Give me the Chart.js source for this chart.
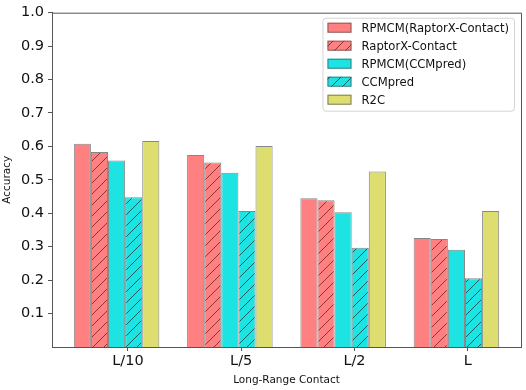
<!DOCTYPE html>
<html>
<head>
<meta charset="utf-8">
<script src="https://cdn.jsdelivr.net/npm/chart.js@4.4.0/dist/chart.umd.min.js"></script>
<style>
  html, body { margin: 0; padding: 0; background: #fff; }
  #wrap { width: 526px; height: 390px; }
</style>
</head>
<body>
<div id="wrap"><canvas id="chart"></canvas></div>
<script>
// data
const categories = ['L/10', 'L/5', 'L/2', 'L'];
const seriesNames = ['RPMCM(RaptorX-Contact)', 'RaptorX-Contact', 'RPMCM(CCMpred)', 'CCMpred', 'R2C'];
const rpmcmRaptor = [0.608, 0.574, 0.445, 0.326];
const raptorX     = [0.583, 0.552, 0.439, 0.323];
const rpmcmCcm    = [0.558, 0.521, 0.403, 0.291];
const ccmpred     = [0.448, 0.407, 0.297, 0.206];
const r2c         = [0.616, 0.601, 0.525, 0.407];
const yTicks = [0.1, 0.2, 0.3, 0.4, 0.5, 0.6, 0.7, 0.8, 0.9, 1.0];

const FONT = '"DejaVu Sans", sans-serif';
const RED = '#ff8080';
const CYAN = '#1de3e3';
const YELLOW = '#dede70';
const EDGE = 'rgba(70,70,70,0.65)';

function hatch(bg, line) {
  const s = 11;
  const c = document.createElement('canvas');
  c.width = s; c.height = s;
  const g = c.getContext('2d');
  g.fillStyle = bg;
  g.fillRect(0, 0, s, s);
  g.strokeStyle = line;
  g.lineWidth = 1;
  g.beginPath();
  g.moveTo(0, s); g.lineTo(s, 0);
  g.moveTo(-1, 1); g.lineTo(1, -1);
  g.moveTo(s - 1, s + 1); g.lineTo(s + 1, s - 1);
  g.stroke();
  return g.createPattern(c, 'repeat');
}

const toPoints = (arr) => arr.map((v, i) => ({ x: i, y: v }));

const fills = [RED, hatch(RED, '#8f3434'), CYAN, hatch(CYAN, '#115e5e'), YELLOW];
const values = [rpmcmRaptor, raptorX, rpmcmCcm, ccmpred, r2c];

const datasets = seriesNames.map((name, k) => ({
  label: name,
  data: toPoints(values[k]),
  backgroundColor: fills[k],
  borderColor: EDGE,
  borderWidth: 1,
  barPercentage: 1.0,
  categoryPercentage: 0.755
}));

// top/right spines
const frame = {
  id: 'frame',
  afterDatasetsDraw(chart) {
    const { ctx, chartArea: a } = chart;
    ctx.save();
    ctx.strokeStyle = '#555';
    ctx.lineWidth = 1;
    ctx.beginPath();
    ctx.moveTo(a.left, a.top + 0.5);
    ctx.lineTo(a.right + 0.5, a.top + 0.5);
    ctx.lineTo(a.right + 0.5, a.bottom);
    ctx.stroke();
    ctx.restore();
  }
};

// matplotlib-style legend in the upper right
const boxLegend = {
  id: 'boxLegend',
  afterDraw(chart) {
    const { ctx, chartArea: a } = chart;
    const ds = chart.data.datasets;
    ctx.save();
    ctx.font = '11.6px ' + FONT;
    let tw = 0;
    ds.forEach(d => { tw = Math.max(tw, ctx.measureText(d.label).width); });
    const w = 5 + 24 + 10 + tw + 5;
    const rowH = 18;
    const h = ds.length * rowH + 3;
    const x = a.right - 7 - w;
    const y = a.top + 5;
    ctx.fillStyle = 'rgba(255,255,255,0.85)';
    ctx.strokeStyle = '#d4d4d4';
    ctx.beginPath();
    ctx.roundRect(x + 0.5, y + 0.5, w, h, 3);
    ctx.fill();
    ctx.stroke();
    ds.forEach((d, i) => {
      const cy = y + 10 + i * rowH;
      ctx.fillStyle = d.backgroundColor;
      ctx.fillRect(x + 5, cy - 5, 24, 10);
      ctx.strokeStyle = EDGE;
      ctx.strokeRect(x + 5.5, cy - 4.5, 23, 9);
      ctx.fillStyle = '#111';
      ctx.textBaseline = 'middle';
      ctx.fillText(d.label, x + 39, cy + 1);
    });
    ctx.restore();
  }
};

new Chart(document.getElementById('chart'), {
  type: 'bar',
  data: { datasets },
  plugins: [frame, boxLegend],
  options: {
    responsive: true,
    maintainAspectRatio: false,
    animation: false,
    layout: { padding: { top: 9, right: 5, left: 0, bottom: 0 } },
    plugins: {
      legend: { display: false },
      tooltip: { enabled: false }
    },
    scales: {
      x: {
        type: 'linear',
        min: -0.57,
        max: 3.57,
        offset: false,
        afterBuildTicks: (scale) => {
          scale.ticks = categories.map((c, i) => ({ value: i + 0.1 }));
        },
        afterFit: (scale) => { scale.height = 43; },
        ticks: {
          autoSkip: false,
          maxRotation: 0,
          padding: 2,
          color: '#111',
          font: { family: FONT, size: 14.5 },
          callback: (v) => categories[Math.round(v - 0.1)]
        },
        grid: { display: true, offset: false, drawOnChartArea: false, tickLength: 4, color: '#555' },
        border: { display: true, color: '#555', width: 1 },
        title: {
          display: true,
          text: 'Long-Range Contact',
          color: '#111',
          font: { family: FONT, size: 10.5 },
          padding: { top: 0, bottom: 3 }
        }
      },
      y: {
        min: 0,
        max: 1,
        afterBuildTicks: (scale) => {
          scale.ticks = yTicks.map(v => ({ value: v }));
        },
        afterFit: (scale) => { scale.width = 52; },
        ticks: {
          padding: 4,
          color: '#111',
          font: { family: FONT, size: 14.5 },
          callback: (v) => v.toFixed(1)
        },
        grid: { display: true, drawOnChartArea: false, tickLength: 4, color: '#555' },
        border: { display: true, color: '#555', width: 1 },
        title: {
          display: true,
          text: 'Accuracy',
          color: '#111',
          font: { family: FONT, size: 10.5 },
          padding: { top: 1, bottom: 0 }
        }
      }
    }
  }
});
</script>
</body>
</html>
